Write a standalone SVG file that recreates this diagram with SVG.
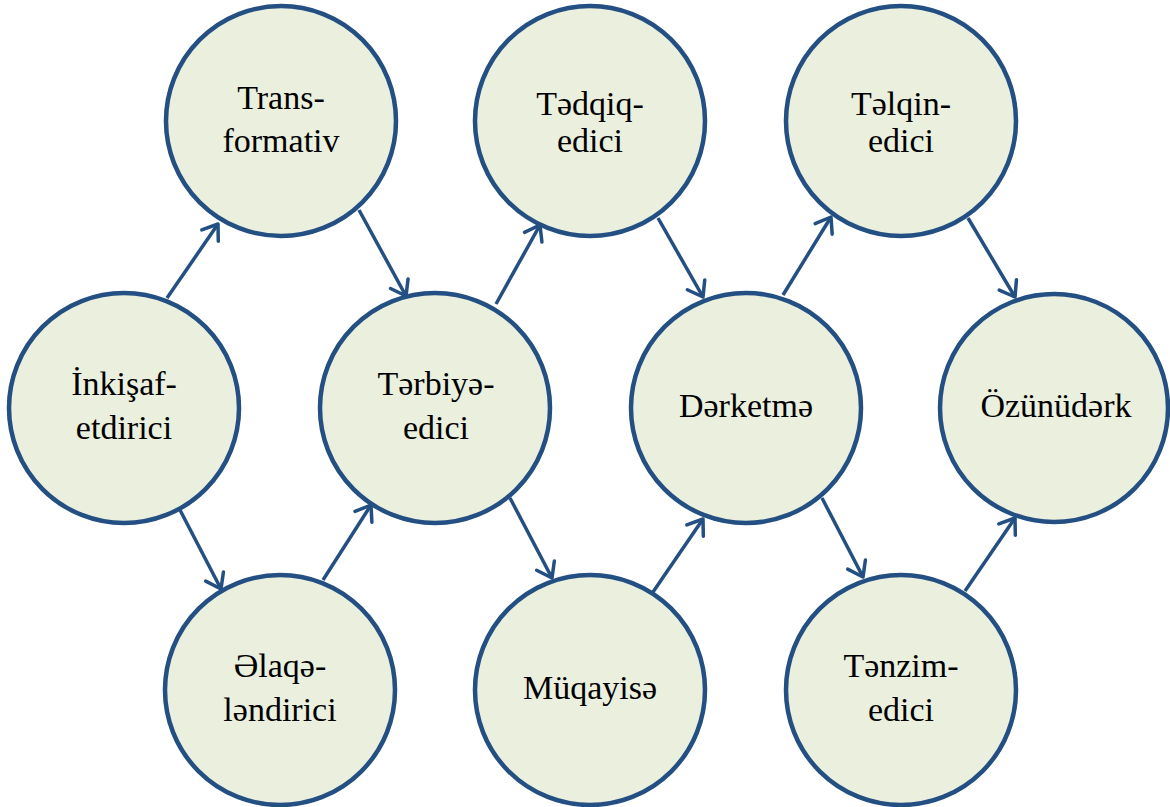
<svg xmlns="http://www.w3.org/2000/svg" width="1170" height="807" viewBox="0 0 1170 807">
  <style>
    .node circle { fill: #EAEFDE; stroke: #234F82; stroke-width: 4.5; }
    .node text { font-family: "Liberation Serif", "DejaVu Serif", serif; font-size: 34px; fill: #000; text-anchor: middle; }
    .conn line { stroke: #234F82; stroke-width: 3.5; fill: none; marker-end: url(#arrow); }
  </style>
  <defs>
    <marker id="arrow" markerUnits="userSpaceOnUse" orient="auto" refX="0" refY="0" markerWidth="40" markerHeight="40" viewBox="-20 -20 40 40" overflow="visible">
      <path d="M-14,-10 L0,0 L-14,10" fill="none" stroke="#234F82" stroke-width="3.5" stroke-linecap="round" stroke-linejoin="round"/>
    </marker>
  </defs>
  <rect width="1170" height="807" fill="#FFFFFF"/>

  <!-- connectors -->
  <g id="connectors" class="conn">
    <line x1="167" y1="298" x2="218" y2="224"/>
    <line x1="359" y1="210" x2="406" y2="296"/>
    <line x1="496" y1="304" x2="540" y2="225"/>
    <line x1="658" y1="218" x2="703" y2="297"/>
    <line x1="783" y1="295" x2="831" y2="217"/>
    <line x1="968" y1="218" x2="1015" y2="297"/>
    <line x1="180" y1="510" x2="221" y2="589"/>
    <line x1="323" y1="580" x2="371" y2="505"/>
    <line x1="510" y1="498" x2="552" y2="578"/>
    <line x1="653" y1="592" x2="703" y2="519"/>
    <line x1="822" y1="498" x2="863" y2="577"/>
    <line x1="965" y1="591" x2="1015" y2="518"/>
  </g>

  <!-- top row -->
  <g id="node-transformativ" class="node">
    <circle cx="281" cy="121" r="115"/>
    <text x="281" y="109">Trans-</text>
    <text x="281" y="152">formativ</text>
  </g>
  <g id="node-tedqiq" class="node">
    <circle cx="590" cy="121" r="115"/>
    <text x="590" y="115">Tədqiq-</text>
    <text x="590" y="152">edici</text>
  </g>
  <g id="node-telqin" class="node">
    <circle cx="901" cy="121" r="115"/>
    <text x="901" y="115">Təlqin-</text>
    <text x="901" y="152">edici</text>
  </g>

  <!-- middle row -->
  <g id="node-inkishaf" class="node">
    <circle cx="124" cy="408" r="115"/>
    <text x="124" y="395">İnkişaf-</text>
    <text x="124" y="439">etdirici</text>
  </g>
  <g id="node-terbiye" class="node">
    <circle cx="435" cy="408" r="115"/>
    <text x="436" y="395">Tərbiyə-</text>
    <text x="436" y="439">edici</text>
  </g>
  <g id="node-derketme" class="node">
    <circle cx="746" cy="408" r="115"/>
    <text x="746" y="417">Dərketmə</text>
  </g>
  <g id="node-ozunuderk" class="node">
    <circle cx="1054" cy="408" r="114"/>
    <text x="1056" y="417">Özünüdərk</text>
  </g>

  <!-- bottom row -->
  <g id="node-elaqe" class="node">
    <circle cx="280" cy="690" r="115"/>
    <text x="280" y="677">Əlaqə-</text>
    <text x="280" y="721">ləndirici</text>
  </g>
  <g id="node-muqayise" class="node">
    <circle cx="590" cy="690" r="115"/>
    <text x="590" y="699">Müqayisə</text>
  </g>
  <g id="node-tenzim" class="node">
    <circle cx="901" cy="690" r="115"/>
    <text x="901" y="677">Tənzim-</text>
    <text x="901" y="721">edici</text>
  </g>
</svg>
